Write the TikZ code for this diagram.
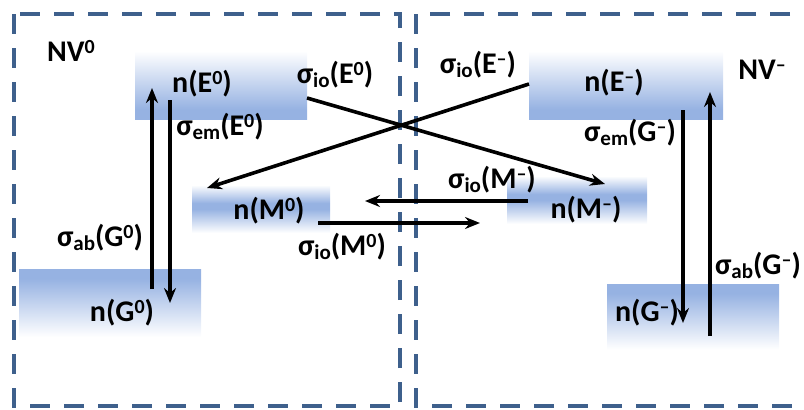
\documentclass[tikz,border=0pt]{standalone}
\usepackage{fontspec}
\usepackage{graphicx}
\setmainfont{Carlito}
\usetikzlibrary{arrows.meta}
\definecolor{lvl}{RGB}{150,178,226}
\definecolor{frame}{RGB}{62,96,140}
\pgfdeclareverticalshading{efade}{100bp}{color(0bp)=(lvl); color(25bp)=(lvl); color(32bp)=(lvl); color(75bp)=(white); color(100bp)=(white)}
\pgfdeclareverticalshading{mfade}{100bp}{color(0bp)=(white); color(25bp)=(white); color(50bp)=(lvl); color(56bp)=(lvl); color(75bp)=(white); color(100bp)=(white)}
\pgfdeclareverticalshading{gfade}{100bp}{color(0bp)=(white); color(25bp)=(white); color(68bp)=(lvl); color(75bp)=(lvl); color(100bp)=(lvl)}
\newcommand\lo[1]{\raisebox{-4pt}{\fontsize{21}{21}\selectfont #1}}
\newcommand\hi[1]{\raisebox{8pt}{\fontsize{20}{20}\selectfont #1}}
\begin{document}
\begin{tikzpicture}[x=1pt,y=-1pt,
  lvlbox/.style={inner sep=0pt,draw=none},
  elvl/.style={lvlbox,shading=efade},
  mlvl/.style={lvlbox,shading=mfade},
  glvl/.style={lvlbox,shading=gfade},
  lbl/.style={inner sep=0pt,font=\fontsize{30}{32}\selectfont\bfseries},
  frm/.style={draw=frame,line width=3.6pt,dash pattern=on 20pt off 14pt},
  arr/.style={line width=3.6pt,-{Stealth[length=15pt,width=12pt,inset=5pt]}}]
\useasboundingbox (0,0) rectangle (804,410);
\begin{scope}
\clip (0,0) rectangle (804,410);
\draw[frm] (14,14) rectangle (400,406);
\draw[frm] (416,14) rectangle (840,406);
\end{scope}
% levels
\node[elvl,minimum width=172,minimum height=68] (E0) at (221,85) {};
\node[mlvl,minimum width=138,minimum height=48] (M0) at (261,209) {};
\node[glvl,minimum width=182,minimum height=68] (G0) at (110,303) {};
\node[elvl,minimum width=194,minimum height=68] (Em) at (626,85) {};
\node[mlvl,minimum width=140,minimum height=48] (Mm) at (577,200) {};
\node[glvl,minimum width=172,minimum height=65] (Gm) at (693,317) {};
% labels
\node[lbl] (nv0) at (71,51) {NV\hi{0}};
\node[lbl] (nvm) at (762,70) {NV\hi{–}};
\node[lbl] (tE0) at (202,84) {n(E\hi{0})};
\node[lbl] (tM0) at (269,211) {n(M\hi{0})};
\node[lbl] (tG0) at (122,313) {n(G\hi{0})};
\node[lbl] (tEm) at (614,83) {n(E\hi{–})};
\node[lbl] (tMm) at (586,210) {n(M\hi{–})};
\node[lbl] (tGm) at (647,313) {n(G\hi{–})};
\node[lbl] (sEmE0) at (220,127) {σ\lo{em}(E\hi{0})};
\node[lbl] (sIoE0) at (335,75) {σ\lo{io}(E\hi{0})};
\node[lbl] (sIoEm) at (478,65) {σ\lo{io}(E\hi{–})};
\node[lbl] (sEmGm) at (630,133) {σ\lo{em}(G\hi{–})};
\node[lbl] (sIoMm) at (492,180) {σ\lo{io}(M\hi{–})};
\node[lbl] (sIoM0) at (342,247) {σ\lo{io}(M\hi{0})};
\node[lbl] (sAbG0) at (100,238) {σ\lo{ab}(G\hi{0})};
\node[lbl] (sAbGm) at (758,266) {σ\lo{ab}(G\hi{–})};
% arrow end points
\coordinate (a1s) at (152,289); \coordinate (a1e) at (152,88);
\coordinate (a2s) at (170,100); \coordinate (a2e) at (170,303);
\coordinate (a3s) at (307,98);  \coordinate (a3e) at (605,184);
\coordinate (a4s) at (529,84);  \coordinate (a4e) at (207,188);
\coordinate (a5s) at (528,201); \coordinate (a5e) at (365,201);
\coordinate (a6s) at (318,223); \coordinate (a6e) at (480,223);
\coordinate (a7s) at (683,110); \coordinate (a7e) at (683,323);
\coordinate (a8s) at (710,336); \coordinate (a8e) at (710,92);
\draw[arr] (a1s) -- (a1e);
\draw[arr] (a2s) -- (a2e);
\draw[arr] (a3s) -- (a3e);
\draw[arr] (a4s) -- (a4e);
\draw[arr] (a5s) -- (a5e);
\draw[arr] (a6s) -- (a6e);
\draw[arr] (a7s) -- (a7e);
\draw[arr] (a8s) -- (a8e);
\end{tikzpicture}
\end{document}
